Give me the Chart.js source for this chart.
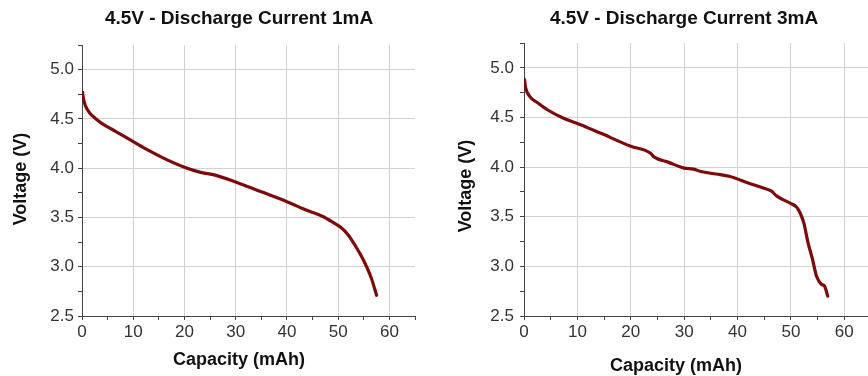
<!DOCTYPE html>
<html>
<head>
<meta charset="utf-8">
<script src="https://cdn.jsdelivr.net/npm/chart.js@4.4.0/dist/chart.umd.min.js"></script>
<style>
	html, body { margin: 0; padding: 0; background: #fff; overflow: hidden; }
	#wrap { position: relative; width: 868px; height: 376px; overflow: hidden; }
	#leftChart { position: absolute; left: 0; top: 0; }
	#rightChart { position: absolute; left: 434px; top: 0; }
</style>
</head>
<body>
<div id="wrap">
	<canvas id="leftChart" width="434" height="376"></canvas>
	<canvas id="rightChart" width="442" height="376"></canvas>
</div>
<script>
// Discharge curve at 1mA
const capacity1mA = [0.1, 0.3, 0.7, 1.5, 2.5, 4, 6, 8, 10, 13, 16, 20, 23, 26, 30, 35, 40, 44, 47, 49, 50.5, 52, 53.5, 55, 56.5, 57.5];
const voltage1mA = [4.77, 4.70, 4.63, 4.56, 4.51, 4.45, 4.39, 4.33, 4.27, 4.18, 4.10, 4.01, 3.96, 3.93, 3.86, 3.76, 3.66, 3.57, 3.51, 3.45, 3.40, 3.32, 3.20, 3.06, 2.88, 2.71];

// Discharge curve at 3mA
const capacity3mA = [0.1, 0.3, 1.1, 2.5, 4.3, 7.5, 10.5, 14.4, 20, 23.7, 24.4, 27, 30, 31.8, 33.1, 36, 38.6, 42, 44.8, 46.3, 47.3, 50.1, 51.0, 51.7, 52.4, 53.2, 54.0, 54.8, 55.7, 56.3, 56.9];
const voltage3mA = [4.88, 4.80, 4.71, 4.65, 4.58, 4.49, 4.43, 4.34, 4.21, 4.14, 4.10, 4.05, 3.99, 3.98, 3.955, 3.93, 3.905, 3.84, 3.79, 3.76, 3.71, 3.63, 3.60, 3.54, 3.44, 3.24, 3.08, 2.90, 2.82, 2.80, 2.70];

// Axis ranges and labelled ticks
const voltageTicks = [2.5, 3.0, 3.5, 4.0, 4.5, 5.0];
const capacityTicks = [0, 10, 20, 30, 40, 50, 60];

const chartTitles = ['4.5V - Discharge Current 1mA', '4.5V - Discharge Current 3mA'];
const xTitle = 'Capacity (mAh)';
const yTitle = 'Voltage (V)';

const FONT = '"Liberation Sans", Arial, Helvetica, sans-serif';
const LINE_COLOR = '#7d0a0a';

function isLabelled(list, v) {
	return list.some(t => Math.abs(t - v) < 1e-6);
}

// Draws the title and the two axis titles at fixed spots, like the source figure
const panelText = {
	id: 'panelText',
	afterDraw(chart, args, opts) {
		const ctx = chart.ctx;
		ctx.save();
		ctx.fillStyle = '#111';
		ctx.textAlign = 'center';
		ctx.textBaseline = 'middle';

		ctx.font = 'bold 19px ' + FONT;
		ctx.fillText(opts.title, opts.titleX, opts.titleY);

		ctx.font = 'bold 18px ' + FONT;
		ctx.fillText(xTitle, opts.xTitleX, opts.xTitleY);

		ctx.translate(opts.yTitleX, opts.yTitleY);
		ctx.rotate(-Math.PI / 2);
		ctx.fillText(yTitle, 0, 0);
		ctx.restore();
	}
};

function makeChart(canvasId, xs, ys, layout) {
	const ctx = document.getElementById(canvasId).getContext('2d');
	return new Chart(ctx, {
		type: 'scatter',
		data: {
			datasets: [{
				data: xs.map((x, i) => ({ x: x, y: ys[i] })),
				showLine: true,
				borderColor: LINE_COLOR,
				borderWidth: 3.2,
				pointRadius: 0,
				cubicInterpolationMode: 'monotone',
				borderCapStyle: 'round',
				borderJoinStyle: 'round'
			}]
		},
		options: {
			responsive: false,
			devicePixelRatio: 1,
			animation: false,
			layout: {
				padding: { top: layout.top, right: layout.right, bottom: layout.bottom, left: 0 }
			},
			plugins: {
				legend: { display: false },
				tooltip: { enabled: false },
				panelText: layout.text
			},
			scales: {
				x: {
					type: 'linear',
					min: 0,
					max: 65,
					afterFit: function(scale) { scale.height = layout.xHeight; },
					ticks: {
						stepSize: 5,
						autoSkip: false,
						maxRotation: 0,
						padding: 2,
						color: '#333',
						font: { family: FONT, size: 17 },
						callback: v => isLabelled(capacityTicks, v) ? String(v) : ''
					},
					grid: {
						color: c => (c.tick && isLabelled(capacityTicks, c.tick.value)) ? '#d2d2d2' : 'rgba(0,0,0,0)',
						tickColor: '#444',
						tickLength: 4
					},
					border: { color: '#444', width: 1 }
				},
				y: {
					type: 'linear',
					min: 2.5,
					max: 5.25,
					afterFit: function(scale) { scale.width = layout.yWidth; },
					ticks: {
						stepSize: 0.25,
						autoSkip: false,
						padding: layout.yPad,
						color: '#333',
						font: { family: FONT, size: 17 },
						callback: v => isLabelled(voltageTicks, v) ? v.toFixed(1) : ''
					},
					grid: {
						color: c => (c.tick && isLabelled(voltageTicks, c.tick.value)) ? '#d2d2d2' : 'rgba(0,0,0,0)',
						tickColor: '#444',
						tickLength: 4
					},
					border: { color: '#444', width: 1 }
				}
			}
		},
		plugins: [panelText]
	});
}

makeChart('leftChart', capacity1mA, voltage1mA, {
	top: 45, right: 19, bottom: 30, xHeight: 30, yWidth: 82, yPad: 4,
	text: { title: chartTitles[0], titleX: 239, titleY: 19, xTitleX: 239, xTitleY: 360, yTitleX: 21, yTitleY: 179 }
});

makeChart('rightChart', capacity3mA, voltage3mA, {
	top: 43, right: 5, bottom: 30, xHeight: 30, yWidth: 90, yPad: 6,
	text: { title: chartTitles[1], titleX: 250, titleY: 19, xTitleX: 242, xTitleY: 366, yTitleX: 32, yTitleY: 186 }
});
</script>
</body>
</html>
